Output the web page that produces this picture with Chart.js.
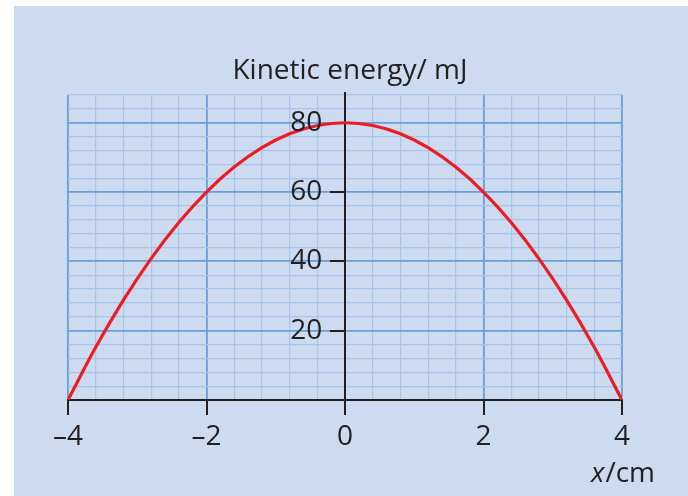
<!DOCTYPE html>
<html>
<head>
<meta charset="utf-8">
<script src="https://cdn.jsdelivr.net/npm/chart.js@4.4.1/dist/chart.umd.min.js"></script>
<style>
  html, body { margin: 0; padding: 0; background: #ffffff; }
  #panel { position: absolute; left: 14px; top: 6px; width: 674px; height: 490px; background: #cddbf0; }
  #c { position: absolute; left: 0; top: 0; }
</style>
</head>
<body>
<div id="panel"></div>
<canvas id="c" width="688" height="496"></canvas>
<script>
// Displacement x (cm)
const xValues = [-4, -3.6, -3.2, -2.8, -2.4, -2, -1.6, -1.2, -0.8, -0.4, 0, 0.4, 0.8, 1.2, 1.6, 2, 2.4, 2.8, 3.2, 3.6, 4];
// Kinetic energy (mJ)
const keValues = [0, 15.2, 28.8, 40.8, 51.2, 60, 67.2, 72.8, 76.8, 79.2, 80, 79.2, 76.8, 72.8, 67.2, 60, 51.2, 40.8, 28.8, 15.2, 0];
// Labelled ticks
const xTickLabels = [-4, -2, 0, 2, 4];
const yTickLabels = [20, 40, 60, 80];
const yTickMarks = [20, 40, 60];
const yMajor = [0, 20, 40, 60, 80];
const yTitle = 'Kinetic energy/ mJ';
const xTitleVar = 'x';
const xTitleUnit = '/cm';

const FONT = '"Open Sans", "DejaVu Sans", sans-serif';
const TEXT = '#231f20';
const MAJOR = '#6a9ed6';
const MINOR = '#a9c4ea';

const near = (v, arr) => arr.some(a => Math.abs(a - v) < 1e-6);

const axisDecor = {
  id: 'axisDecor',
  afterDraw(chart) {
    const ctx = chart.ctx;
    const xs = chart.scales.x;
    const ys = chart.scales.y;
    ctx.save();
    // tick marks through the library's scales
    ctx.strokeStyle = TEXT;
    ctx.lineWidth = 2;
    const x0 = xs.getPixelForValue(0);
    const y0 = ys.getPixelForValue(0);
    ctx.beginPath();
    xTickLabels.forEach(v => {
      const px = Math.round(xs.getPixelForValue(v));
      ctx.moveTo(px, y0);
      ctx.lineTo(px, y0 + 15);
    });
    yTickMarks.forEach(v => {
      const py = Math.round(ys.getPixelForValue(v));
      ctx.moveTo(x0, py);
      ctx.lineTo(x0 - 15, py);
    });
    // y axis line slight overshoot above the grid
    ctx.moveTo(Math.round(x0), ys.top - 3);
    ctx.lineTo(Math.round(x0), ys.top);
    ctx.stroke();

    // axis titles
    ctx.fillStyle = TEXT;
    ctx.textBaseline = 'alphabetic';
    ctx.font = '28px ' + FONT;
    ctx.textAlign = 'center';
    ctx.fillText(yTitle, x0 + 5, 79);
    ctx.textAlign = 'left';
    ctx.font = 'italic 28px ' + FONT;
    const wx = ctx.measureText(xTitleVar).width;
    const tx = 591;
    ctx.fillText(xTitleVar, tx, 482);
    ctx.font = '28px ' + FONT;
    ctx.fillText(xTitleUnit, tx + wx + 1, 482);
    ctx.restore();
  }
};

new Chart(document.getElementById('c'), {
  type: 'line',
  data: {
    datasets: [{
      data: xValues.map((x, i) => ({ x: x, y: keValues[i] })),
      borderColor: '#ec1c24',
      borderWidth: 3.2,
      pointRadius: 0,
      cubicInterpolationMode: 'monotone',
      fill: false
    }]
  },
  options: {
    responsive: false,
    animation: false,
    devicePixelRatio: 1,
    layout: { padding: { left: 68, right: 66, top: 95, bottom: 36 } },
    plugins: { legend: { display: false }, tooltip: { enabled: false }, title: { display: false } },
    scales: {
      x: {
        type: 'linear',
        position: 'bottom',
        min: -4, max: 4,
        afterFit(scale) { scale.height = 60; },
        ticks: {
          stepSize: 0.4,
          autoSkip: false,
          maxRotation: 0,
          padding: 5,
          color: TEXT,
          font: { size: 28, family: FONT },
          callback: (v) => near(v, xTickLabels) ? (v < 0 ? '\u2013' + Math.abs(Math.round(v)) : String(Math.round(v))) : ''
        },
        grid: {
          color: (c) => near(c.tick.value, xTickLabels) ? MAJOR : MINOR,
          lineWidth: (c) => near(c.tick.value, xTickLabels) ? 1.8 : 1.2,
          drawTicks: true,
          tickLength: 15,
          tickColor: 'rgba(0,0,0,0)'
        },
        border: { display: true, color: TEXT, width: 2 }
      },
      y: {
        type: 'linear',
        position: { x: 0 },
        min: 0, max: 88,
        ticks: {
          stepSize: 4,
          autoSkip: false,
          display: false
        },
        grid: {
          color: (c) => near(c.tick.value, yMajor) ? MAJOR : MINOR,
          lineWidth: (c) => near(c.tick.value, yMajor) ? 1.8 : 1.2,
          drawTicks: false
        },
        border: { display: true, color: TEXT, width: 2 }
      },
      yLabels: {
        type: 'linear',
        axis: 'y',
        position: { x: -0.33 },
        min: 0, max: 88,
        afterBuildTicks(scale) { scale.ticks = yTickLabels.map(v => ({ value: v })); },
        ticks: {
          autoSkip: false,
          z: 1,
          color: TEXT,
          font: { size: 28, family: FONT },
          callback: (v) => String(Math.round(v))
        },
        grid: { display: false, drawTicks: false },
        border: { display: false }
      }
    }
  },
  plugins: [axisDecor]
});
</script>
</body>
</html>
